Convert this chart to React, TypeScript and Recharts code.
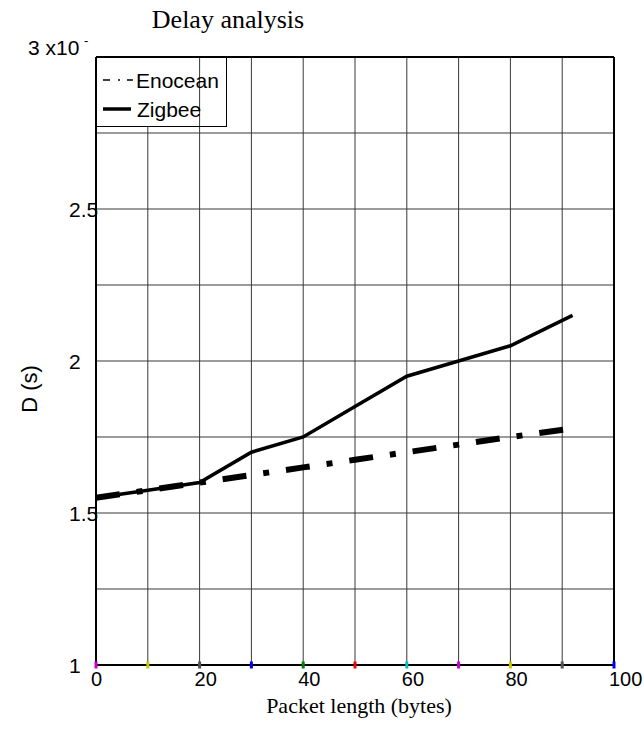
import { LineChart, Line, XAxis, YAxis, CartesianGrid, ReferenceLine, Legend } from "recharts";

// packet length (bytes)
const lengths = [0, 10, 20, 30, 40, 50, 60, 70, 80, 92];
// delay, x10^-3 s
const enocean = [1.55, 1.575, 1.6, 1.625, 1.65, 1.675, 1.7, 1.725, 1.75, 1.778];
const zigbee = [1.55, 1.575, 1.6, 1.7, 1.75, 1.85, 1.95, 2.0, 2.05, 2.15];

const xTicks = [0, 10, 20, 30, 40, 50, 60, 70, 80, 90, 100];
const xTickColors = ["#cc00cc", "#c8c800", "#555555", "#0000ff", "#008000", "#ff0000", "#00c0c0", "#cc00cc", "#c8c800", "#555555", "#0000ff"];
const yTicks = [1, 1.25, 1.5, 1.75, 2, 2.25, 2.5, 2.75, 3];

const data = lengths.map((x, i) => ({ x, enocean: enocean[i], zigbee: zigbee[i] }));

const sans = "'Liberation Sans', Arial, sans-serif";
const serif = "'Liberation Serif', 'Times New Roman', serif";

const XTick = (props: any) => {
  const { x, y, payload, index } = props;
  const v = payload.value;
  return (
    <g>
      <rect x={x - 1.5} y={y - 3.5} width={3} height={7} fill={xTickColors[index] || "#555"} />
      {v % 20 === 0 && (
        <text x={x - 5} y={y + 14} fontSize={20} fontFamily={sans} fill="#000" dominantBaseline="central">
          {v}
        </text>
      )}
    </g>
  );
};

const YTick = (props: any) => {
  const { x, y, payload } = props;
  const v = payload.value;
  if (v === 3) {
    return (
      <g>
        <text x={28} y={y - 10} fontSize={21} fontFamily={sans} fill="#000" dominantBaseline="central">3 x10</text>
        <text x={84} y={y - 17} fontSize={13} fontFamily={sans} fill="#000" dominantBaseline="central">-</text>
      </g>
    );
  }
  if ((v * 2) % 1 !== 0) return <g />;
  return (
    <text x={x - 27} y={y} fontSize={21} fontFamily={sans} fill="#000" dominantBaseline="central">
      {v}
    </text>
  );
};

const LegendBox = () => (
  <div
    style={{
      width: 131,
      height: 70,
      boxSizing: "border-box",
      border: "1px solid #000",
      background: "linear-gradient(to right, #fff 0 101px, transparent 101px)",
      position: "relative",
      fontFamily: sans,
      fontSize: 21,
    }}
  >
    <svg width={131} height={70} style={{ position: "absolute", left: 0, top: 0 }}>
      <line x1={6} x2={36} y1={22} y2={22} stroke="#000" strokeWidth={1.3} strokeDasharray="7 8 2 7" />
      <text x={39} y={22} fontSize={21} fontFamily={sans} dominantBaseline="central">Enocean</text>
      <line x1={6} x2={34} y1={51} y2={51} stroke="#000" strokeWidth={3.5} />
      <text x={40} y={51} fontSize={21} fontFamily={sans} dominantBaseline="central">Zigbee</text>
    </svg>
  </div>
);

function App() {
  return (
    <div style={{ position: "absolute", left: 0, top: 0, width: 644, height: 731, background: "#fff" }}>
      <LineChart width={644} height={731} data={data} margin={{ top: 57, right: 30, bottom: 26, left: 20 }}>
        <CartesianGrid stroke="#383838" strokeWidth={1} />
        <XAxis
          dataKey="x"
          type="number"
          domain={[0, 100]}
          ticks={xTicks}
          tick={<XTick />}
          tickLine={false}
          tickSize={0}
          tickMargin={0}
          height={40}
          axisLine={{ stroke: "#000", strokeWidth: 2 }}
          interval={0}
        />
        <YAxis
          type="number"
          domain={[1, 3]}
          ticks={yTicks}
          tick={<YTick />}
          tickLine={false}
          tickSize={0}
          tickMargin={0}
          width={76}
          axisLine={{ stroke: "#000", strokeWidth: 2 }}
          interval={0}
        />
        <ReferenceLine x={100} stroke="#000" strokeWidth={2} />
        <ReferenceLine y={3} stroke="#000" strokeWidth={2} />
        <Line dataKey="zigbee" stroke="#000" strokeWidth={3.5} dot={false} isAnimationActive={false} />
        <Line
          dataKey="enocean"
          stroke="#000"
          strokeWidth={6}
          strokeDasharray="24 17 6 17"
          dot={false}
          isAnimationActive={false}
        />
        <Legend
          layout="vertical"
          align="center"
          verticalAlign="middle"
          content={<LegendBox />}
          wrapperStyle={{ left: 96, top: 57, width: 131, height: 70 }}
        />
      </LineChart>
      <svg width={644} height={731} style={{ position: "absolute", left: 0, top: 0, pointerEvents: "none" }}>
        <text x={228} y={28} textAnchor="middle" fontSize={26} fontFamily={serif} fill="#000">Delay analysis</text>
        <text x={359} y={713} textAnchor="middle" fontSize={22} fontFamily={serif} fill="#000">Packet length (bytes)</text>
        <text
          x={29}
          y={389}
          textAnchor="middle"
          dominantBaseline="central"
          fontSize={22}
          fontFamily={sans}
          fill="#000"
          transform="rotate(-90 29 389)"
        >
          D (s)
        </text>
      </svg>
    </div>
  );
}

export default App;
